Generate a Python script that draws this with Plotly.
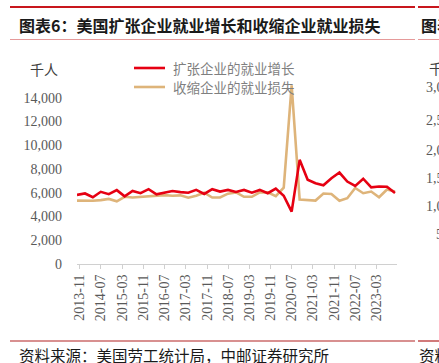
import pandas as pd
import plotly.graph_objects as go

# Quarterly data, 2013Q3 - 2023Q3 (thousand persons)
quarters = pd.date_range("2013-09-30", periods=41, freq="QE")

expanding_gains = [5820, 5940, 5620, 6080, 5880, 6220, 5700, 6150, 5960, 6300,
                   5870, 6010, 6150, 6050, 6000, 6240, 5900, 6300, 6100, 6240,
                   6070, 6240, 6010, 6240, 5960, 6350, 5750, 4410, 8770, 7100,
                   6800, 6630, 7220, 7700, 6940, 6580, 7180, 6450, 6520, 6500,
                   5980]

contracting_losses = [5340, 5330, 5320, 5380, 5480, 5280, 5660, 5600, 5640, 5680,
                      5740, 5800, 5750, 5780, 5580, 5750, 6000, 5600, 5600, 5920,
                      6030, 5660, 5660, 6030, 6030, 5720, 6420, 15050, 5420, 5400,
                      5340, 5940, 5900, 5320, 5540, 6400, 5960, 6100, 5620, 6270,
                      6100]

series_names = ["扩张企业的就业增长", "收缩企业的就业损失"]
series_colors = ["#E60012", "#DEB47A"]
y_ticks = [0, 2000, 4000, 6000, 8000, 10000, 12000, 14000]

title_text = "图表6：美国扩张企业就业增长和收缩企业就业损失"
source_text = "资料来源：美国劳工统计局，中邮证券研究所"
unit_text = "千人"

W, H = 439, 363
L, R, T, B = 77, 397, 74, 264


def px(x):
    return (x - L) / (R - L)


def py(y):
    return (B - y) / (B - T)


CJK = "Noto Sans CJK SC"
SERIF = "Liberation Serif"

fig = go.Figure()
for vals, name, col in zip([contracting_losses, expanding_gains], series_names[::-1], series_colors[::-1]):
    fig.add_trace(go.Scatter(x=quarters, y=vals, mode="lines", name=name,
                             line=dict(color=col, width=2.6), showlegend=False))

shapes = []
for x0, x1 in [(10, 415), (418, 440)]:
    shapes.append(dict(type="line", xref="paper", yref="paper", x0=px(x0), x1=px(x1),
                       y0=py(7), y1=py(7), line=dict(color="#C8161D", width=2)))
    shapes.append(dict(type="line", xref="paper", yref="paper", x0=px(x0), x1=px(x1),
                       y0=py(39.5), y1=py(39.5), line=dict(color="#E59A9A", width=1)))
    shapes.append(dict(type="line", xref="paper", yref="paper", x0=px(x0), x1=px(x1),
                       y0=py(341), y1=py(341), line=dict(color="#B22222", width=1.2)))
# legend samples
for yy, col in zip([68, 87], series_colors):
    shapes.append(dict(type="line", xref="paper", yref="paper", x0=px(134), x1=px(165),
                       y0=py(yy), y1=py(yy), line=dict(color=col, width=2.6)))

annotations = []
annotations.append(dict(text=f"<b>{title_text}</b>", x=px(17), y=py(25), xref="paper", yref="paper",
                        xanchor="left", yanchor="middle", showarrow=False,
                        font=dict(family=CJK, size=16, color="#1A1A1A")))
annotations.append(dict(text="<b>图表</b>", x=px(419), y=py(25), xref="paper", yref="paper",
                        xanchor="left", yanchor="middle", showarrow=False,
                        font=dict(family=CJK, size=16, color="#1A1A1A")))
annotations.append(dict(text=source_text, x=px(17), y=py(355), xref="paper", yref="paper",
                        xanchor="left", yanchor="middle", showarrow=False,
                        font=dict(family=CJK, size=15.5, color="#1A1A1A")))
annotations.append(dict(text="资料", x=px(417), y=py(355), xref="paper", yref="paper",
                        xanchor="left", yanchor="middle", showarrow=False,
                        font=dict(family=CJK, size=15.5, color="#1A1A1A")))
annotations.append(dict(text=unit_text, x=px(44), y=py(69), xref="paper", yref="paper",
                        xanchor="center", yanchor="middle", showarrow=False,
                        font=dict(family=CJK, size=14, color="#404040")))
for yy, name in zip([68, 87], series_names):
    annotations.append(dict(text=name, x=px(171), y=py(yy), xref="paper", yref="paper",
                            xanchor="left", yanchor="middle", showarrow=False,
                            font=dict(family=CJK, size=13.5, color="#7F7F7F")))
# clipped neighbouring chart labels at the right edge
annotations.append(dict(text="千人", x=px(427), y=py(68), xref="paper", yref="paper",
                        xanchor="left", yanchor="middle", showarrow=False,
                        font=dict(family=CJK, size=14, color="#404040")))
for yy, t, xx in [(87, "3,000", 424), (120, "2,500", 424), (150, "2,000", 424),
                  (178, "1,500", 424), (206, "1,000", 424), (234, "500", 434)]:
    annotations.append(dict(text=t, x=px(xx), y=py(yy), xref="paper", yref="paper",
                            xanchor="left", yanchor="middle", showarrow=False,
                            font=dict(family=SERIF, size=14, color="#595959")))

fig.update_layout(
    width=W, height=H,
    margin=dict(l=L, r=W - R, t=T, b=H - B, pad=0),
    paper_bgcolor="white", plot_bgcolor="white",
    shapes=shapes, annotations=annotations,
    xaxis=dict(type="date", range=["2013-09-30", "2023-10-23"],
               tick0="2013-11-01", dtick="M8", tickformat="%Y-%m",
               tickangle=-90, showgrid=False, zeroline=False,
               showline=True, linecolor="#D0D0D0", linewidth=1,
               ticks="outside", ticklen=4, tickcolor="#D0D0D0",
               tickfont=dict(family=SERIF, size=14, color="#595959")),
    yaxis=dict(range=[0, 16000], tickvals=y_ticks, tickformat=",",
               showgrid=False, zeroline=False, showline=False, ticks="",
               ticklabelstandoff=14,
               tickfont=dict(family=SERIF, size=14, color="#595959")),
)

fig.write_html("out.html", config={"displayModeBar": False},
               post_script="document.body.style.margin='0';document.body.style.overflow='hidden';")
